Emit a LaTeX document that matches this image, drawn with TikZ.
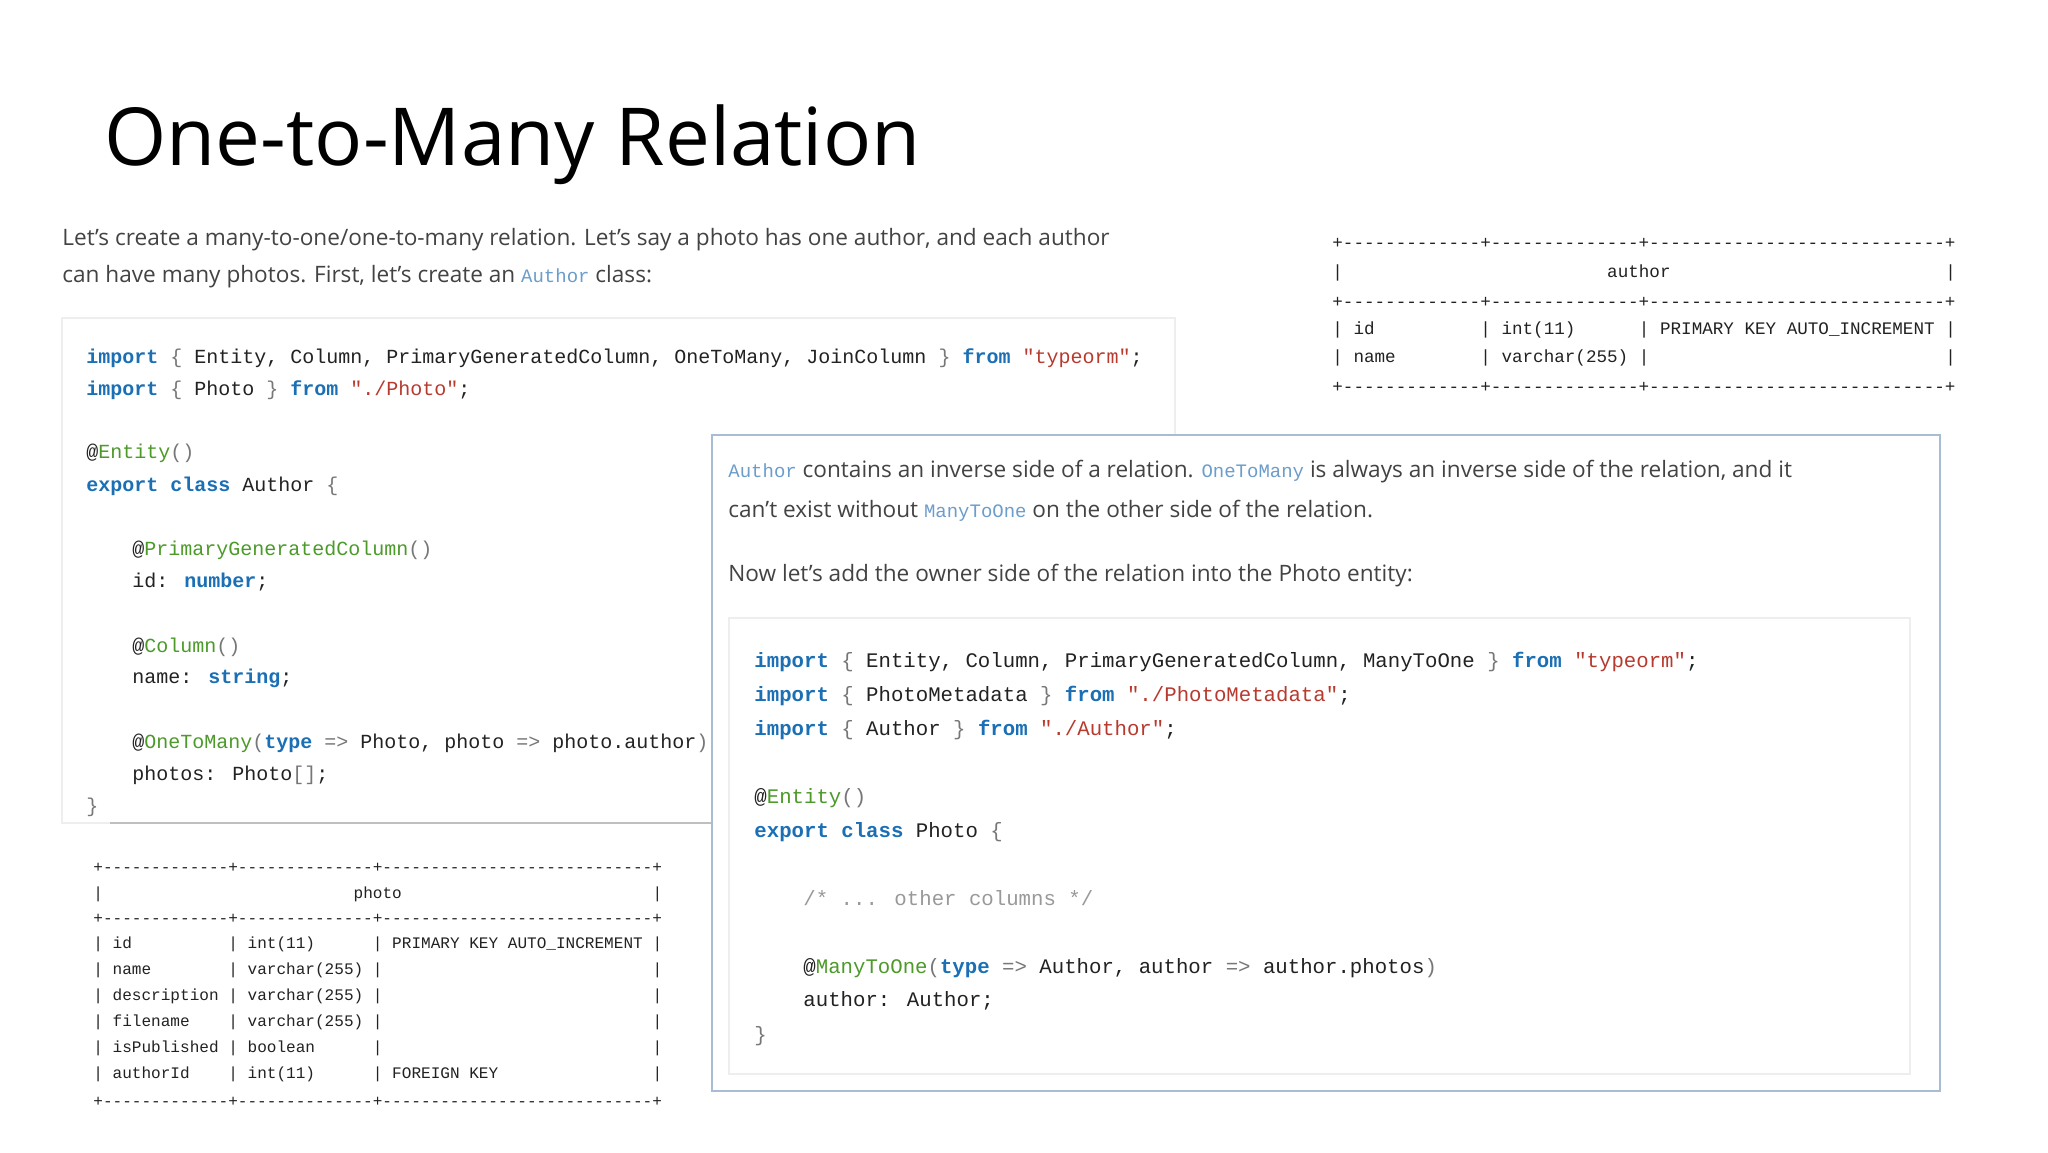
\documentclass[tikz,border=0pt]{standalone}
\usepackage{fontspec}
\setmainfont{Open Sans}
\newfontfamily\codef{Liberation Mono}
\definecolor{kw}{HTML}{1B6FB5}
\definecolor{st}{HTML}{B83A2E}
\definecolor{dc}{HTML}{4C9A2A}
\definecolor{pu}{HTML}{777777}
\definecolor{tx}{HTML}{222222}
\definecolor{cm}{HTML}{999999}
\definecolor{ic}{HTML}{6C9DCB}
\definecolor{bx}{HTML}{A9BCD6}
\definecolor{lb}{HTML}{EEEEEE}
\newcommand{\K}[1]{\textcolor{kw}{\bfseries #1}}
\newcommand{\Sx}[1]{\textcolor{st}{#1}}
\newcommand{\D}[1]{\textcolor{dc}{#1}}
\newcommand{\Pu}[1]{\textcolor{pu}{#1}}
\newcommand{\IC}[1]{{\codef\fontsize{9.5pt}{11pt}\selectfont\textcolor{ic}{#1}}}
\tikzset{
  cl/.style={anchor=base west,inner sep=0pt,text=tx,font=\codef\fontsize{10pt}{12pt}\selectfont},
  cr/.style={anchor=base west,inner sep=0pt,text=tx,font=\codef\fontsize{10.35pt}{12pt}\selectfont},
  para/.style={anchor=base west,inner sep=0pt,text=tx!85,font=\fontsize{11.3pt}{14pt}\selectfont},
  tp/.style={anchor=base west,inner sep=0pt,text=tx,font=\codef\fontsize{8.03pt}{10pt}\selectfont},
  ta/.style={anchor=base west,inner sep=0pt,text=tx,font=\codef\fontsize{8.8pt}{10pt}\selectfont},
}
\begin{document}
\begin{tikzpicture}[x=0.5pt,y=-0.5pt]
\useasboundingbox[fill=white] (0,0) rectangle (2048,1152);
% title
\node[anchor=base west,inner sep=0pt,font=\fontsize{40pt}{48pt}\selectfont,text=black] (title) at (104,165) {One-to-Many Relation};
% intro paragraph
\node[para] (p1) at (62,245) {Let's create a many-to-one/one-to-many relation. Let's say a photo has one author, and each author};
\node[para] (p2) at (62,282) {can have many photos. First, let's create an \IC{Author} class:};
% left code box
\draw[lb,line width=1pt] (62,318) rectangle (1175,823);
\draw[black!25,line width=1.2pt] (110,823) -- (712,823);
\node[cl] (l1) at (86,363) {\K{import} \Pu{\{} Entity, Column, PrimaryGeneratedColumn, OneToMany, JoinColumn \Pu{\}} \K{from} \Sx{"typeorm"};};
\node[cl] (l2) at (86,395) {\K{import} \Pu{\{} Photo \Pu{\}} \K{from} \Sx{"./Photo"};};
\node[cl] (l3) at (86,458) {@\D{Entity}\Pu{()}};
\node[cl] (l4) at (86,491) {\K{export} \K{class} Author \Pu{\{}};
\node[cl] (l5) at (132,555) {@\D{PrimaryGeneratedColumn}\Pu{()}};
\node[cl] (l6) at (132,587) {id: \K{number};};
\node[cl] (l7) at (132,652) {@\D{Column}\Pu{()}};
\node[cl] (l8) at (132,683) {name: \K{string};};
\node[cl] (l9) at (132,748) {@\D{OneToMany}\Pu{(}\K{type} \Pu{=>} Photo, photo \Pu{=>} photo.author\Pu{)}};
\node[cl] (l10) at (132,780) {photos: Photo\Pu{[]};};
\node[cl] (l11) at (86,812) {\Pu{\}}};
% author table
\foreach \t/\y in {{+-------------+--------------+----------------------------+}/248,{+-------------+--------------+----------------------------+}/307,{+-------------+--------------+----------------------------+}/392}
  \node[ta] at (1332,\y) {\t};
\node[ta] (ah) at (1332,277) {|};
\node[ta] at (1332+58*10.57,277) {|};
\node[ta] (an) at (1332+26*10.57,277) {author};
\foreach \a/\b/\c/\y in {id/int(11)/PRIMARY KEY AUTO\_INCREMENT/334, name/varchar(255)//362}{
  \node[ta] at (1332,\y) {|};
  \node[ta] at (1332+2*10.57,\y) {\a};
  \node[ta] at (1332+14*10.57,\y) {|};
  \node[ta] at (1332+16*10.57,\y) {\b};
  \node[ta] at (1332+29*10.57,\y) {|};
  \node[ta] at (1332+31*10.57,\y) {\c};
  \node[ta] at (1332+58*10.57,\y) {|};
}
% photo table
\foreach \y in {872,923,1106}
  \node[tp] at (93,\y) {+-------------+--------------+----------------------------+};
\node[tp] at (93,898) {|};
\node[tp] at (93+58*9.64,898) {|};
\node[tp] (ph) at (93+27*9.64,898) {photo};
\foreach \a/\b/\c/\y in {id/int(11)/PRIMARY KEY AUTO\_INCREMENT/948, name/varchar(255)//974, description/varchar(255)//1000, filename/varchar(255)//1026, isPublished/boolean//1052, authorId/int(11)/FOREIGN KEY/1078}{
  \node[tp] at (93,\y) {|};
  \node[tp] at (93+2*9.64,\y) {\a};
  \node[tp] at (93+14*9.64,\y) {|};
  \node[tp] at (93+16*9.64,\y) {\b};
  \node[tp] at (93+29*9.64,\y) {|};
  \node[tp] at (93+31*9.64,\y) {\c};
  \node[tp] at (93+58*9.64,\y) {|};
}
% right box
\draw[bx,fill=white,line width=1pt] (712,435) rectangle (1940,1091);
\node[para] (r1) at (728,477) {\IC{Author} contains an inverse side of a relation. \IC{OneToMany} is always an inverse side of the relation, and it};
\node[para] (r2) at (728,517) {can't exist without \IC{ManyToOne} on the other side of the relation.};
\node[para] (r3) at (728,581) {Now let's add the owner side of the relation into the Photo entity:};
\draw[lb,line width=1pt] (729,618) rectangle (1910,1074);
\node[cr] (c1) at (754,667) {\K{import} \Pu{\{} Entity, Column, PrimaryGeneratedColumn, ManyToOne \Pu{\}} \K{from} \Sx{"typeorm"};};
\node[cr] (c2) at (754,701) {\K{import} \Pu{\{} PhotoMetadata \Pu{\}} \K{from} \Sx{"./PhotoMetadata"};};
\node[cr] (c3) at (754,735) {\K{import} \Pu{\{} Author \Pu{\}} \K{from} \Sx{"./Author"};};
\node[cr] (c4) at (754,803) {@\D{Entity}\Pu{()}};
\node[cr] (c5) at (754,837) {\K{export} \K{class} Photo \Pu{\{}};
\node[cr,text=cm] (c6) at (803,905) {/* ... other columns */};
\node[cr] (c7) at (803,973) {@\D{ManyToOne}\Pu{(}\K{type} \Pu{=>} Author, author \Pu{=>} author.photos\Pu{)}};
\node[cr] (c8) at (803,1006) {author: Author;};
\node[cr] (c9) at (754,1041) {\Pu{\}}};
\end{tikzpicture}
\end{document}
